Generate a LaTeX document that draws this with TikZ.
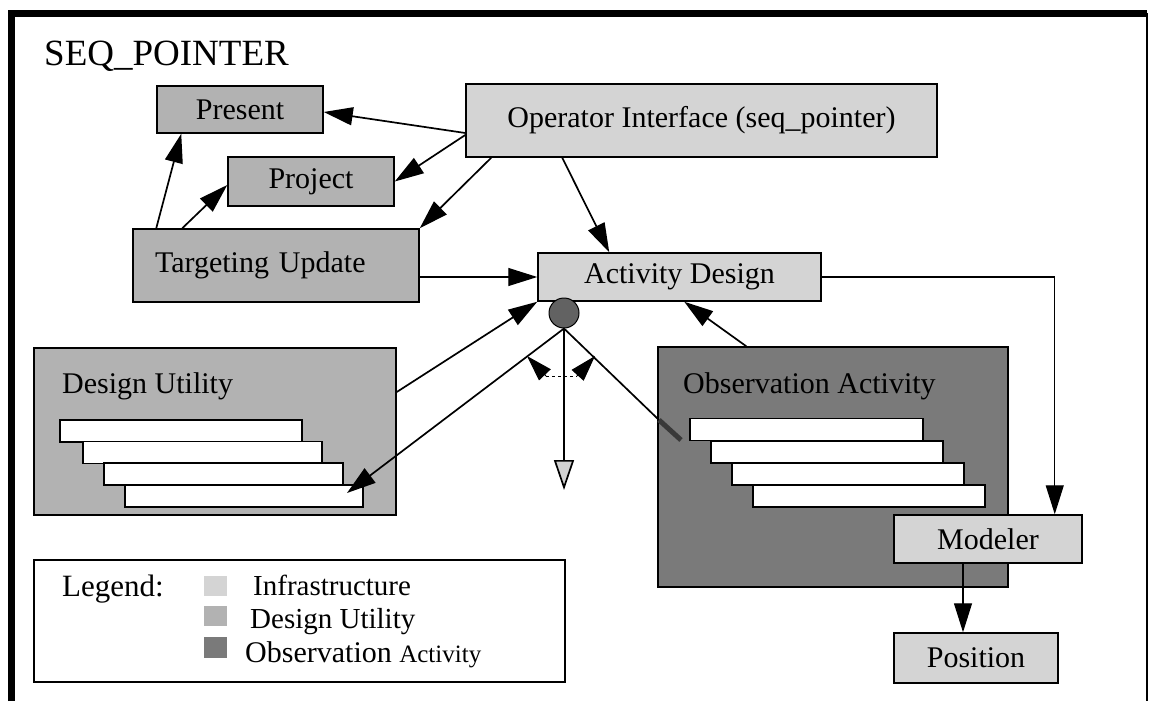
\documentclass[tikz,border=0pt]{standalone}
\usepackage{fontspec}
\setmainfont{Liberation Serif}
\usetikzlibrary{arrows.meta,calc}
\definecolor{infra}{gray}{0.83}
\definecolor{dutil}{gray}{0.70}
\definecolor{obsact}{gray}{0.48}
\tikzset{
  lbl/.style={font=\fontsize{30pt}{34pt}\selectfont},
  box/.style={draw=black, line width=1.5pt, inner sep=0pt, lbl},
  bar/.style={draw=black, fill=white, line width=1.4pt, inner sep=0pt, minimum height=22pt},
  arr/.style={line width=1.7pt, -{Triangle[length=29pt,width=18pt]}},
  thinarr/.style={line width=1.2pt, -{Triangle[length=29pt,width=18pt]}},
  txt/.style={anchor=base west, inner sep=0pt},
  legf/.style={font=\fontsize{29pt}{33pt}\selectfont},
}
\begin{document}
\begin{tikzpicture}[x=1pt,y=-1pt]
\useasboundingbox (0,0) rectangle (1150,701);
\fill[white] (0,0) rectangle (1150,701);
% frame
\draw[line width=7pt] (11.5,701) -- (11.5,13.5) -- (1147,13.5);
\draw[line width=2pt] (1147,13.5) -- (1147,701);

\node[txt, font=\fontsize{37pt}{40pt}\selectfont] (title) at (44,65) {SEQ\_POINTER};

% boxes
\node[box, fill=dutil, minimum width=166pt, minimum height=47pt] (pres) at (240,109.5) {Present};
\node[box, fill=dutil, minimum width=166pt, minimum height=49pt] (proj) at (311,181.5) {Project};
\node[box, fill=infra, minimum width=471pt, minimum height=73pt] (op) at (701.5,120.5) {Operator Interface (seq\_pointer)};
\node[box, fill=dutil, text width=242pt, inner xsep=22pt, align=left, minimum height=73pt] (tu) at (276,265.5) {Targeting Update};
\node[box, fill=infra, minimum width=283pt, minimum height=48pt] (ad) at (679.5,277) {Activity Design};

% design utility
\node[box, fill=dutil, minimum width=362pt, minimum height=167pt] (du) at (215,431.5) {};
\node[txt, lbl] (dul) at (62,393) {Design Utility};
\node[bar, minimum width=242pt] (dub1) at (181,431) {};
\node[bar, minimum width=239pt] (dub2) at (202.5,452.5) {};
\node[bar, minimum width=239pt] (dub3) at (223.5,474) {};
\node[bar, minimum width=238pt] (dub4) at (244,496) {};

% observation activity
\node[box, fill=obsact, minimum width=350pt, minimum height=240pt] (oa) at (833,467) {};
\node[txt, lbl] (oal) at (683,393) {Observation Activity};
\node[bar, minimum width=233pt] (oab1) at (806.5,429.5) {};
\node[bar, minimum width=232pt] (oab2) at (827,452) {};
\node[bar, minimum width=232pt] (oab3) at (848,474) {};
\node[bar, minimum width=232pt] (oab4) at (869,496) {};

\node[box, fill=infra, minimum width=188pt, minimum height=48pt] (mod) at (988,539) {Modeler};
\node[box, fill=infra, minimum width=164pt, minimum height=50pt] (pos) at (976,658) {Position};

% circle
\node[circle, draw=black, fill=obsact!80!black, line width=1pt, minimum size=30pt, inner sep=0pt] (circ) at (564,313) {};

% legend
\node[draw=black, line width=1.5pt, minimum width=531pt, minimum height=122pt, inner sep=0pt] (leg) at (299.5,621) {};
\node[txt, font=\fontsize{31pt}{36pt}\selectfont] (legt) at (62,596) {Legend:};
\node[fill=infra, minimum width=23pt, minimum height=20pt, inner sep=0pt] (sw1) at (215.5,586) {};
\node[fill=dutil, minimum width=23pt, minimum height=20pt, inner sep=0pt] (sw2) at (215.5,616) {};
\node[fill=obsact, minimum width=23pt, minimum height=21pt, inner sep=0pt] (sw3) at (215.5,647.5) {};
\node[txt, legf] (l1) at (253,595) {Infrastructure};
\node[txt, legf] (l2) at (250,628) {Design Utility};
\node[txt] (l3) at (245,662) {\fontsize{30pt}{34pt}\selectfont Observation \fontsize{25pt}{29pt}\selectfont Activity};

% connectors
\draw[arr] ([yshift=-12.5pt]op.west) -- ([yshift=-2.5pt]pres.east);
\draw[arr] ([yshift=-14.5pt]op.west) -- (proj.east);
\draw[arr] ([xshift=26pt]op.south west) -- (tu.north east);
\draw[arr] ([xshift=97pt]op.south west) -- ([xshift=72pt]ad.north west);
\draw[arr] ([xshift=24pt]tu.north west) -- ([xshift=25pt]pres.south west);
\draw[arr] ([xshift=50pt]tu.north west) -- ([yshift=-3.5pt]proj.west);
\draw[thinarr] (tu.east |- ad.west) -- (ad.west);
\draw[arr] ([yshift=39.5pt]du.east) -- (ad.south west);
\coordinate (dutip) at (347,493);
\draw[arr] (circ.south) -- (dutip);
\coordinate (down) at (564,490);
\draw[line width=1.7pt, -{Triangle[length=30pt,width=20pt,fill=gray!35]}] (circ.south) -- (down);
\coordinate (oaend) at (659,420);
\coordinate (oah) at (681,440);
\draw[line width=1.7pt] (circ.south) -- (oaend);
\draw[line width=5pt, gray!45!black] (oaend) -- (oah);
\draw[arr] ([xshift=89pt]oa.north west) -- ([xshift=147pt]ad.south west);
\draw[thinarr] (ad.east) -| ([xshift=-28pt]mod.north east);
\draw[thinarr] ([xshift=-25pt]mod.south) -- ([xshift=-13pt]pos.north);

% angle marker
\coordinate (ab1) at (546,376);
\coordinate (at1) at (527,356);
\coordinate (ab2) at (577,376);
\coordinate (at2) at (595,356);
\draw[dashed, line width=1pt] (ab1) -- (ab2);
\draw[line width=1pt, -{Triangle[length=26pt,width=16pt]}] (ab1) -- (at1);
\draw[line width=1pt, -{Triangle[length=26pt,width=16pt]}] (ab2) -- (at2);
\end{tikzpicture}
\end{document}
